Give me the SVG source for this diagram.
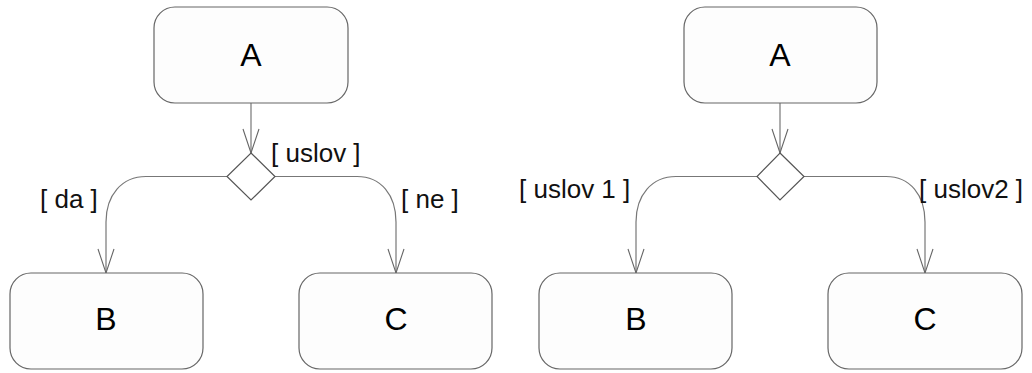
<svg xmlns="http://www.w3.org/2000/svg" width="1032" height="373" viewBox="0 0 1032 373">
<style>
.node rect{fill:#fdfdfd;stroke:#666;stroke-width:1.2}
.dec polygon{fill:#fff;stroke:#555;stroke-width:1.2}
.lbl{font-family:"Liberation Sans",Arial,sans-serif;font-size:32px;fill:#000;text-anchor:middle}
.g{font-family:"Liberation Sans",Arial,sans-serif;font-size:26px;fill:#111}
.edges path{fill:none;stroke:#777;stroke-width:1.2}
</style>
<defs>
<marker id="open" viewBox="0 0 26 18" refX="25" refY="9" markerWidth="26" markerHeight="18" markerUnits="userSpaceOnUse" orient="auto">
<path d="M1,1 L25,9 L1,17" fill="none" stroke="#666" stroke-width="1.1"/>
</marker>
</defs>
<rect width="1032" height="373" fill="#fff"/>
<g class="edges">
<path d="M251,103 V153" marker-end="url(#open)"/>
<path d="M227,176.5 H146 C122,176.5 106,195 106,222 V273" marker-end="url(#open)"/>
<path d="M275,176.5 H357 C381,176.5 396,195 396,222 V273" marker-end="url(#open)"/>
<path d="M780,103 V153" marker-end="url(#open)"/>
<path d="M757,176.5 H676 C652,176.5 636,195 636,222 V273" marker-end="url(#open)"/>
<path d="M804,176.5 H886 C910,176.5 925,195 925,222 V273" marker-end="url(#open)"/>
</g>
<g id="d1" class="dec"><polygon points="251,153 275,176.5 251,200 227,176.5"/></g>
<g id="d2" class="dec"><polygon points="780,153 804,176.5 780,200 757,176.5"/></g>
<g id="A1" class="node"><rect x="154" y="7" width="194" height="96" rx="21"/><text class="lbl" x="251" y="66">A</text></g>
<g id="B1" class="node"><rect x="10" y="273" width="193" height="96" rx="21"/><text class="lbl" x="106" y="330">B</text></g>
<g id="C1" class="node"><rect x="299" y="273" width="193" height="96" rx="21"/><text class="lbl" x="396" y="330">C</text></g>
<g id="A2" class="node"><rect x="684" y="7" width="193" height="96" rx="21"/><text class="lbl" x="780" y="66">A</text></g>
<g id="B2" class="node"><rect x="539" y="273" width="193" height="96" rx="21"/><text class="lbl" x="636" y="330">B</text></g>
<g id="C2" class="node"><rect x="828" y="273" width="194" height="96" rx="21"/><text class="lbl" x="925" y="330">C</text></g>
<g id="labels">
<text class="g" x="271" y="162">[ uslov ]</text>
<text class="g" x="40" y="208">[ da ]</text>
<text class="g" x="401" y="208">[ ne ]</text>
<text class="g" x="519" y="198">[ uslov 1 ]</text>
<text class="g" x="919" y="198">[ uslov2 ]</text>
</g>
</svg>
